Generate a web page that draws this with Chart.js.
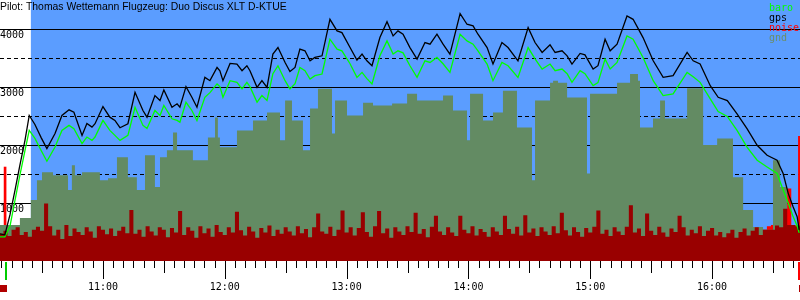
<!DOCTYPE html>
<html>
<head>
<meta charset="utf-8">
<script src="https://cdn.jsdelivr.net/npm/chart.js@4/dist/chart.umd.min.js"></script>
<style>
  body { margin: 0; background: #fff; }
  canvas { display: block; }
</style>
</head>
<body>
<canvas id="flight" width="800" height="300"></canvas>
<script>
// 時刻は 0:00 からの分
const flightTitle = 'Pilot: Thomas Wettemann Flugzeug: Duo Discus XLT D-KTUE';
const seriesNames = ['baro', 'gps', 'noise', 'gnd'];

const takeoffTime = 612.3;
const releaseTime = 624.5;
const landingTime = 1002.9;

// 高度 (gps / baro)
const trackTimes = [609.3, 611.7, 614.2, 616.7, 619.1, 621.6, 623.7, 626.5, 629.5, 632.4,
  636.4, 639.8, 643.3, 645.7, 649.7, 652.1, 654.6, 656.1, 660.0, 663.4,
  665.9, 668.4, 672.3, 675.8, 679.7, 681.7, 685.6, 688.1, 690.0, 694.0,
  696.5, 697.9, 700.9, 703.8, 706.3, 710.2, 712.7, 716.2, 717.6, 719.1,
  722.6, 726.0, 728.5, 730.9, 732.4, 735.9, 738.3, 740.8, 743.7, 746.2,
  749.7, 752.1, 754.6, 757.0, 759.5, 762.0, 764.4, 767.9, 771.8, 775.3,
  777.7, 781.7, 785.1, 787.6, 790.0, 792.5, 796.4, 799.9, 802.9, 805.3,
  807.8, 811.2, 814.7, 818.6, 821.1, 824.5, 827.5, 830.9, 835.9, 839.3,
  842.3, 844.7, 849.2, 852.1, 856.5, 859.5, 864.4, 869.4, 872.8, 876.3,
  880.2, 882.7, 886.1, 888.6, 891.0, 895.0, 897.4, 901.4, 903.8, 907.3,
  909.8, 913.2, 918.1, 921.1, 926.0, 931.0, 935.9, 940.8, 947.7, 950.7,
  954.1, 959.1, 963.0, 967.5, 972.3, 977.2, 982.2, 987.1, 992.0, 995.0,
  997.5, 999.9, 1001.9, 1002.9];
const gpsAlt = [468, 451, 794, 1223, 1652, 2080, 2509, 2353, 2132, 1938,
  2199, 2509, 2607, 2566, 2166, 2372, 2308, 2367, 2663, 2480,
  2423, 2298, 2367, 2909, 2595, 2480, 2852, 2766, 2950, 2651,
  2710, 2651, 3006, 2823, 2651, 3166, 3109, 3337, 3281, 3109,
  3406, 3396, 3281, 3367, 3281, 2994, 3109, 2994, 3567, 3680,
  3423, 3268, 3337, 3653, 3624, 3452, 3509, 3538, 4167, 3967,
  3938, 3680, 3464, 3567, 3452, 3367, 3852, 4126, 3881, 3967,
  3910, 3680, 3481, 3767, 3739, 3910, 3739, 3567, 4264, 4082,
  4053, 3910, 3680, 3396, 3767, 3680, 3452, 4024, 3767, 3595,
  3727, 3595, 3624, 3538, 3396, 3578, 3555, 3310, 3367, 3824,
  3624, 3739, 4224, 4167, 3852, 3452, 3166, 3195, 3595, 3452,
  3396, 3023, 2823, 2766, 2538, 2281, 1995, 1823, 1737, 1509,
  1166, 936, 765, 537];
const baroAlt = [417, 417, 597, 1051, 1480, 1902, 2252, 2115, 1909, 1720,
  1965, 2252, 2338, 2281, 2024, 2137, 2080, 2137, 2424, 2252,
  2166, 2080, 2166, 2651, 2338, 2286, 2595, 2509, 2681, 2452,
  2423, 2394, 2737, 2595, 2423, 2823, 2903, 3053, 3006, 2823,
  3109, 3080, 2967, 3080, 3006, 2737, 2852, 2766, 3229, 3366,
  3109, 2967, 3058, 3337, 3281, 3138, 3195, 3224, 3824, 3653,
  3624, 3401, 3166, 3252, 3144, 3053, 3538, 3795, 3567, 3624,
  3589, 3366, 3166, 3452, 3423, 3509, 3401, 3252, 3910, 3795,
  3739, 3624, 3396, 3109, 3423, 3366, 3166, 3680, 3486, 3310,
  3396, 3281, 3310, 3229, 3080, 3281, 3229, 3023, 3075, 3481,
  3310, 3423, 3881, 3824, 3509, 3109, 2852, 2881, 3252, 3178,
  3080, 2795, 2578, 2492, 2252, 1965, 1737, 1622, 1509, 1223,
  1000, 765, 605, 485];

// 地面の高さ (段ごとの開始時刻)
const gndTimes = [609.3, 619.1, 624.5, 627.5, 630.0, 635.4, 642.8, 644.7, 646.2, 649.7,
  658.5, 662.5, 666.9, 672.3, 676.7, 680.7, 685.6, 688.1, 691.5, 694.5,
  696.5, 704.3, 711.7, 715.2, 716.6, 717.6, 726.0, 733.9, 740.8, 747.2,
  749.7, 753.1, 758.5, 762.0, 765.9, 772.8, 774.3, 780.2, 788.1, 793.0,
  802.4, 809.8, 814.7, 827.5, 832.4, 839.3, 840.8, 847.2, 852.1, 857.0,
  863.9, 871.3, 872.8, 880.2, 881.7, 884.1, 888.6, 898.4, 899.9, 913.2,
  919.6, 923.5, 924.5, 930.9, 934.4, 936.8, 947.7, 955.6, 962.5, 970.3,
  975.3, 980.2, 985.1, 990.0, 993.5, 996.9, 1003.3];
const gnd = [620, 740, 1051, 1394, 1531, 1480, 1223, 1652, 1480, 1531,
  1394, 1428, 1789, 1445, 1223, 1823, 1274, 1789, 1909, 2216,
  1909, 1737, 2130, 2473, 2130, 1960, 2250, 2421, 2560, 2080,
  2766, 2421, 1909, 2628, 2971, 2200, 2766, 2508, 2730, 2680,
  2714, 2885, 2766, 2852, 2594, 2080, 2885, 2423, 2560, 2937,
  2303, 1394, 2766, 3074, 3109, 3074, 2818, 1509, 2885, 3074,
  3224, 3109, 2303, 2457, 2766, 2457, 2980, 2000, 2114, 1445,
  880, 588, 537, 1737, 1274, 622, 622];

// ノイズ (2分ごと)
const noiseStart = 609;
const noiseStep = 2;
const noise = [470, 520, 430, 540, 580, 450, 500, 420, 540, 590, 520, 990, 600, 440, 540, 380, 620, 430, 560, 500,
  450, 580, 510, 400, 600, 540, 460, 560, 430, 520, 590, 480, 880, 470, 540, 420, 600, 510, 440, 580,
  540, 410, 570, 490, 860, 450, 580, 520, 400, 600, 480, 560, 420, 620, 500, 450, 580, 490, 850, 530,
  440, 590, 510, 400, 570, 490, 610, 430, 540, 470, 580, 510, 440, 600, 480, 550, 410, 580, 820, 510,
  470, 590, 430, 540, 870, 490, 580, 440, 570, 840, 500, 420, 600, 860, 480, 560, 400, 580, 510, 450,
  600, 500, 830, 470, 550, 410, 590, 780, 510, 450, 580, 490, 430, 780, 540, 480, 600, 440, 550, 500,
  420, 580, 510, 450, 780, 550, 470, 590, 440, 790, 490, 560, 430, 580, 510, 450, 600, 480, 830, 530,
  440, 580, 500, 420, 570, 490, 590, 870, 470, 540, 430, 580, 510, 450, 590, 960, 490, 560, 430, 820,
  520, 450, 590, 490, 420, 560, 500, 780, 580, 440, 540, 480, 600, 430, 520, 570, 440, 500, 410, 480,
  540, 400, 500, 560, 440, 520, 580, 450, 540, 600, 620, 610, 580, 900, 1250, 620, 600, 640];
const noisePeakTimes = [611.8, 1003.0];
const noisePeaks = [1620, 2150];

const colors = {
  sky: '#5b9dff', gnd: '#638b63', noiseDark: '#990000', noise: '#ff0000',
  baro: '#00ff00', gps: '#000000'
};

function gndAt(t) {
  let v = gnd[0];
  for (let i = 0; i < gndTimes.length; i++) {
    if (gndTimes[i] <= t) v = gnd[i];
  }
  return v;
}

const trackGps = trackTimes.map((t, i) => ({x: t, y: gpsAlt[i]}));
const trackBaro = trackTimes.map((t, i) => ({x: t, y: baroAlt[i]}));
const gndData = gndTimes.map((t, i) => ({x: t, y: gnd[i]}));
const noiseData = noise.map((v, i) => ({x: noiseStart + i * noiseStep, y: v}));
noiseData.push({x: noiseStart + noise.length * noiseStep, y: noise[noise.length - 1]});
// 地面より下の部分は濃い赤
const noiseBelow = noiseData.map(p => ({x: p.x, y: Math.min(p.y, gndAt(p.x))}));
const peakData = noisePeakTimes.map((t, i) => ({x: t, y: noisePeaks[i]}));

const hhmm = v => Math.floor(v / 60) + ':' + String(v % 60).padStart(2, '0');

// 軸の余白をなくす
const noPadding = s => {
  s.paddingTop = 0; s.paddingBottom = 0; s.paddingLeft = 0; s.paddingRight = 0;
};

const background = {
  id: 'background',
  beforeDraw(chart) {
    const {ctx, chartArea: a, scales: {x}} = chart;
    ctx.save();
    ctx.fillStyle = '#fff';
    ctx.fillRect(0, 0, chart.width, chart.height);
    const x0 = x.getPixelForValue(releaseTime);
    ctx.fillStyle = colors.sky;
    ctx.fillRect(x0, a.top, a.right - x0, a.bottom - a.top);
    ctx.restore();
  }
};

const decorations = {
  id: 'decorations',
  afterDraw(chart) {
    const {ctx, chartArea: a, scales: {x}} = chart;
    ctx.save();
    // 5分ごとの目盛り
    ctx.strokeStyle = '#000';
    ctx.lineWidth = 1;
    ctx.beginPath();
    for (let m = Math.ceil(x.min / 5) * 5; m <= x.max; m += 5) {
      const len = m % 60 === 0 ? 18 : (m % 30 === 0 ? 12 : 7);
      const px = Math.round(x.getPixelForValue(m)) + 0.5;
      ctx.moveTo(px, a.bottom);
      ctx.lineTo(px, a.bottom + len);
    }
    ctx.stroke();

    // 離陸・着陸マーク
    const tx = Math.round(x.getPixelForValue(takeoffTime));
    ctx.fillStyle = '#00cc00';
    ctx.fillRect(tx - 1, a.bottom + 1, 2, 18);
    const lx = Math.round(x.getPixelForValue(landingTime));
    ctx.fillStyle = colors.noise;
    ctx.fillRect(lx - 1, a.bottom + 1, 2, 18);
    ctx.fillStyle = '#b00000';
    ctx.fillRect(a.left, a.bottom + 24, 7, 7);
    ctx.fillRect(a.right - 1, a.bottom + 24, 1, 7);

    // タイトル
    ctx.font = '10.4px "Liberation Sans", Arial, sans-serif';
    ctx.fillStyle = '#000';
    ctx.textBaseline = 'alphabetic';
    ctx.fillText(flightTitle, 0, 10);

    // 凡例
    const legendColors = [colors.baro, colors.gps, colors.noise, '#6b8e6b'];
    ctx.font = '10px "DejaVu Sans Mono", monospace';
    seriesNames.forEach((name, i) => {
      ctx.fillStyle = legendColors[i];
      ctx.fillText(name, 769, 11 + i * 10);
    });
    ctx.restore();
  }
};

Chart.defaults.font.family = '"DejaVu Sans Mono", monospace';
Chart.defaults.font.size = 10;
Chart.defaults.color = '#000';

new Chart(document.getElementById('flight'), {
  data: {
    datasets: [
      {
        type: 'line', label: 'gps', data: trackGps, order: 0,
        borderColor: colors.gps, borderWidth: 1.3, pointRadius: 0, fill: false
      },
      {
        type: 'line', label: 'baro', data: trackBaro, order: 1,
        borderColor: colors.baro, borderWidth: 1.3, pointRadius: 0, fill: false
      },
      {
        type: 'line', label: 'noise', data: noiseBelow, order: 2, stepped: true,
        borderWidth: 0, pointRadius: 0, fill: 'origin', backgroundColor: colors.noiseDark
      },
      {
        type: 'line', label: 'gnd', data: gndData, order: 3, stepped: true,
        borderWidth: 0, pointRadius: 0, fill: 'origin', backgroundColor: colors.gnd
      },
      {
        type: 'line', label: 'noise above gnd', data: noiseData, order: 4, stepped: true,
        borderWidth: 0, pointRadius: 0, fill: 'origin', backgroundColor: colors.noise
      },
      {
        type: 'bar', label: 'noise peaks', data: peakData, order: 5,
        backgroundColor: colors.noise, barThickness: 2
      }
    ]
  },
  options: {
    responsive: false,
    animation: false,
    events: [],
    layout: { padding: 0, autoPadding: false },
    plugins: { legend: { display: false }, tooltip: { enabled: false } },
    scales: {
      x: {
        type: 'linear',
        offset: false,
        min: 609.3,
        max: 1003.3,
        grid: { display: false, offset: false },
        border: { display: false },
        ticks: {
          stepSize: 60,
          autoSkip: false,
          maxRotation: 0,
          padding: 12,
          callback: v => (v % 60 === 0 ? hhmm(v) : null)
        },
        afterFit: s => { s.height = 39; noPadding(s); }
      },
      y: {
        position: 'left',
        min: 0,
        max: 4500,
        z: 1,
        grid: { color: '#000', lineWidth: 1, drawTicks: false },
        border: { display: false },
        ticks: {
          stepSize: 500,
          mirror: true,
          padding: 0,
          labelOffset: 6,
          callback: v => (v % 1000 === 0 && v > 0 && v < 4500 ? String(v) : null)
        },
        afterFit: s => { s.width = 0; noPadding(s); }
      },
      yHalf: {
        position: 'left',
        min: 0,
        max: 4500,
        z: 1,
        grid: {
          drawTicks: false,
          lineWidth: 1,
          color: c => (c.tick && c.tick.value % 1000 === 500 && c.tick.value < 4500 ? '#000' : 'rgba(0,0,0,0)')
        },
        border: { display: false, dash: [4, 3] },
        ticks: { stepSize: 500, display: false },
        afterFit: s => { s.width = 0; noPadding(s); }
      }
    }
  },
  plugins: [background, decorations]
});
</script>
</body>
</html>
